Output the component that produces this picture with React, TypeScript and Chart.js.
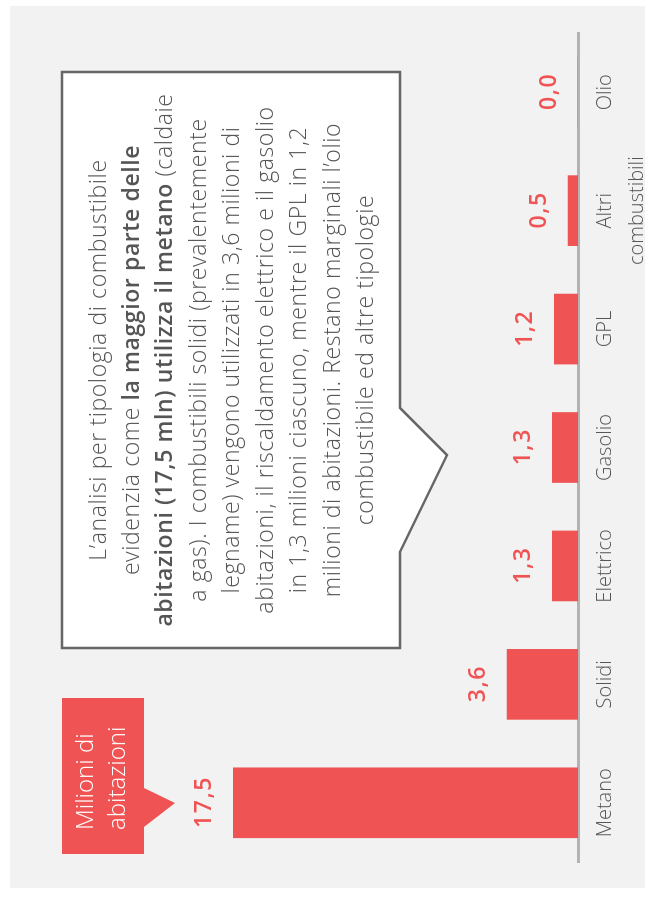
import React, { useEffect, useRef } from "react";
import { Chart, registerables } from "chart.js";

Chart.register(...registerables);

const categories: string[][] = [
  ["Metano"],
  ["Solidi"],
  ["Elettrico"],
  ["Gasolio"],
  ["GPL"],
  ["Altri", "combustibili"],
  ["Olio"],
];
const values: number[] = [17.5, 3.6, 1.3, 1.3, 1.2, 0.5, 0.0];
const unitLabel: string[] = ["Milioni di", "abitazioni"];

type Seg = { t: string; b?: boolean };
const calloutLines: Seg[][] = [
  [{ t: "L\u2019analisi per tipologia di combustibile" }],
  [{ t: "evidenzia come " }, { t: "la maggior parte delle", b: true }],
  [{ t: "abitazioni (17,5 mln) utilizza il metano", b: true }, { t: " (caldaie" }],
  [{ t: "a gas). I combustibili solidi (prevalentemente" }],
  [{ t: "legname) vengono utilizzati in 3,6 milioni di" }],
  [{ t: "abitazioni, il riscaldamento elettrico e il gasolio" }],
  [{ t: "in 1,3 milioni ciascuno, mentre il GPL in 1,2" }],
  [{ t: "milioni di abitazioni. Restano marginali l\u2019olio" }],
  [{ t: "combustibile ed altre tipologie" }],
];

const RED = "#f05353";
const FONT = "'Open Sans', Lato, sans-serif";
const W = 901;
const H = 653;

const valueLabelPlugin = {
  id: "valueLabels",
  afterDatasetsDraw(chart: any) {
    const ctx = chart.ctx;
    const meta = chart.getDatasetMeta(0);
    ctx.save();
    ctx.fillStyle = RED;
    ctx.font = "600 23px 'Open Sans'";
    try {
      (ctx as any).letterSpacing = "1.5px";
    } catch (e) {}
    ctx.textAlign = "center";
    ctx.textBaseline = "alphabetic";
    meta.data.forEach((bar: any, i: number) => {
      const v = values[i];
      ctx.fillText(v.toFixed(1).replace(".", ","), bar.x + 0.75, bar.y - 22);
    });
    ctx.restore();
  },
};

export default function App() {
  const ref = useRef<HTMLCanvasElement | null>(null);

  useEffect(() => {
    if (!ref.current) return;
    const chart = new Chart(ref.current, {
      type: "bar",
      data: {
        labels: categories,
        datasets: [
          {
            data: values,
            backgroundColor: RED,
            borderWidth: 0,
            barThickness: 70,
          },
        ],
      },
      options: {
        animation: false,
        responsive: false,
        events: [],
        layout: { padding: { left: 39, right: 33, top: 184, bottom: 0 } },
        plugins: {
          legend: { display: false },
          tooltip: { enabled: false },
        },
        scales: {
          x: {
            grid: { display: false, drawTicks: false },
            border: { display: true, color: "#b3b3b3", width: 3 },
            ticks: {
              color: "#555555",
              font: { family: "'Open Sans'", size: 20, weight: "350", lineHeight: 1.6 },
              padding: 11,
              maxRotation: 0,
              autoSkip: false,
            },
            afterFit: (s: any) => {
              s.height = 75;
            },
          },
          y: {
            display: false,
            min: 0,
            max: 20,
          },
        },
      },
      plugins: [valueLabelPlugin],
    });
    return () => chart.destroy();
  }, []);

  return (
    <div
      style={{
        position: "absolute",
        left: 0,
        top: 0,
        width: W,
        height: H,
        transformOrigin: "0 0",
        transform: `translate(0px, ${W}px) rotate(-90deg)`,
        fontFamily: FONT,
      }}
    >
      <div
        style={{
          position: "absolute",
          left: 13,
          top: 10,
          width: 882,
          height: 635,
          background: "#f2f2f2",
        }}
      />
      <canvas
        ref={ref}
        width={W}
        height={H}
        style={{ position: "absolute", left: 0, top: 0, width: W, height: H }}
      />
      <svg
        width={W}
        height={H}
        style={{ position: "absolute", left: 0, top: 0 }}
      >
        <path
          d="M253,62 H829 V400 H493 L446,447 L349,400 H253 Z"
          fill="#ffffff"
          stroke="#666666"
          strokeWidth={2.5}
        />
        <path d="M47,62 H203 V144 H113 L98,175 L74,144 H47 Z" fill={RED} />
      </svg>
      <div
        style={{
          position: "absolute",
          left: 253,
          top: 62,
          width: 576,
          height: 338,
          display: "flex",
          flexDirection: "column",
          justifyContent: "center",
          alignItems: "center",
          color: "#555555",
          fontSize: 23,
          lineHeight: "33.4px",
          fontWeight: 350,
          letterSpacing: "0.6px",
          whiteSpace: "nowrap",
        }}
      >
        {calloutLines.map((line, i) => (
          <div key={i}>
            {line.map((s, j) => (
              <span key={j} style={{ fontWeight: s.b ? 600 : 350 }}>
                {s.t}
              </span>
            ))}
          </div>
        ))}
      </div>
      <div
        style={{
          position: "absolute",
          left: 71,
          top: 68,
          color: "#ffffff",
          fontSize: 24,
          lineHeight: "32px",
          fontWeight: 350,
          whiteSpace: "nowrap",
        }}
      >
        {unitLabel.map((l, i) => (
          <div key={i}>{l}</div>
        ))}
      </div>
    </div>
  );
}
